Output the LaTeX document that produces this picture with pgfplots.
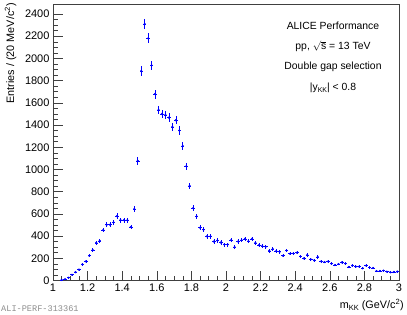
\documentclass[border=0pt]{standalone}
\usepackage{fontspec}
\setmainfont{Liberation Sans}
\setmonofont{Liberation Mono}
\usepackage{pgfplots}
\usepackage{pgfplotstable}
\pgfplotsset{compat=1.18}

\pgfplotstableread{
x y ex ey
1.05 5 0.01 2.2
1.07 12 0.01 3.5
1.09 25 0.01 5
1.11 52 0.01 7.2
1.13 75 0.01 8.7
1.15 98 0.01 9.9
1.17 145 0.01 12
1.19 172 0.01 13.1
1.21 223 0.01 14.9
1.23 274 0.01 16.6
1.25 339 0.01 18.4
1.27 357 0.01 18.9
1.29 454 0.01 21.3
1.31 502 0.01 22.4
1.33 502 0.01 22.4
1.35 523 0.01 22.9
1.37 580 0.01 24.1
1.39 544 0.01 23.3
1.41 544 0.01 23.3
1.43 544 0.01 23.3
1.45 482 0.01 22
1.47 643 0.01 25.4
1.49 1077 0.01 32.8
1.51 1887 0.01 43.4
1.53 2309 0.01 48.1
1.55 2181 0.01 46.7
1.57 1937 0.01 44
1.59 1679 0.01 41
1.61 1536 0.01 39.2
1.63 1500 0.01 38.7
1.65 1491 0.01 38.6
1.67 1467 0.01 38.3
1.69 1384 0.01 37.2
1.71 1443 0.01 38
1.73 1351 0.01 36.8
1.75 1211 0.01 34.8
1.77 1029 0.01 32.1
1.79 851 0.01 29.2
1.81 652 0.01 25.5
1.83 577 0.01 24
1.85 476 0.01 21.8
1.87 458 0.01 21.4
1.89 398 0.01 19.9
1.91 398 0.01 19.9
1.93 351 0.01 18.7
1.95 360 0.01 19
1.97 342 0.01 18.5
1.99 324 0.01 18
2.01 324 0.01 18
2.03 363 0.01 19.1
2.05 300 0.01 17.3
2.07 351 0.01 18.7
2.09 363 0.01 19.1
2.11 375 0.01 19.4
2.13 354 0.01 18.8
2.15 375 0.01 19.4
2.17 339 0.01 18.4
2.19 318 0.01 17.8
2.21 310 0.01 17.6
2.23 304 0.01 17.4
2.25 267 0.01 16.3
2.27 283 0.01 16.8
2.29 265 0.01 16.3
2.31 259 0.01 16.1
2.33 223 0.01 14.9
2.35 270 0.01 16.4
2.37 241 0.01 15.5
2.39 244 0.01 15.6
2.41 250 0.01 15.8
2.43 217 0.01 14.7
2.45 199 0.01 14.1
2.47 229 0.01 15.1
2.49 190 0.01 13.8
2.51 181 0.01 13.5
2.53 211 0.01 14.5
2.55 172 0.01 13.1
2.57 166 0.01 12.9
2.59 172 0.01 13.1
2.61 152 0.01 12.3
2.63 139 0.01 11.8
2.65 148 0.01 12.2
2.67 163 0.01 12.8
2.69 152 0.01 12.3
2.71 121 0.01 11
2.73 134 0.01 11.6
2.75 125 0.01 11.2
2.77 125 0.01 11.2
2.79 110 0.01 10.5
2.81 134 0.01 11.6
2.83 116 0.01 10.8
2.85 113 0.01 10.6
2.87 86 0.01 9.3
2.89 86 0.01 9.3
2.91 89 0.01 9.4
2.93 80 0.01 8.9
2.95 74 0.01 8.6
2.97 77 0.01 8.8
2.99 80 0.01 8.9
}\data

\begin{document}
\begin{tikzpicture}
\path[use as bounding box] (0,0) rectangle (407bp,315bp);
\begin{axis}[
  at={(53bp,34.5bp)}, anchor=south west,
  scale only axis, width=346bp, height=276.5bp,
  xmin=1, xmax=3, ymin=0, ymax=2490,
  xtick={1,1.2,1.4,1.6,1.8,2,2.2,2.4,2.6,2.8,3},
  ytick={0,200,400,600,800,1000,1200,1400,1600,1800,2000,2200,2400},
  minor x tick num=3, minor y tick num=3,
  xtick pos=left, ytick pos=left,
  tick align=inside,
  major tick length=9.5bp, minor tick length=4.8bp,
  axis line style={black!75, line width=0.5bp},
  tick style={black!75, line width=0.5bp},
  ticklabel style={font=\fontsize{11bp}{13bp}\selectfont},
  /pgf/number format/assume math mode=true,
  /pgf/number format/1000 sep={},
  scaled ticks=false,
  xlabel={m\raisebox{-0.35ex}{\fontsize{7.5bp}{8bp}\selectfont KK} (GeV/c\textsuperscript{2})},
  ylabel={Entries / (20 MeV/c\textsuperscript{2})},
  every axis x label/.style={at={(rel axis cs:1,0)}, xshift=5bp, yshift=-24.5bp, anchor=east, inner sep=0pt, font=\fontsize{10.8bp}{13bp}\selectfont},
  every axis y label/.style={at={(rel axis cs:0,1)}, xshift=-42.5bp, yshift=1bp, rotate=90, anchor=east, inner sep=0pt, font=\fontsize{10.8bp}{13bp}\selectfont},
]
\addplot[only marks, blue, mark=*, mark size=0.9bp,
  error bars/.cd, x dir=both, x explicit, y dir=both, y explicit,
  error mark=none, error bar style={blue, line width=0.6bp}]
  table[x=x, y=y, x error=ex, y error=ey] {\data};
\end{axis}
\begin{scope}[every node/.style={font=\fontsize{10.4bp}{12bp}\selectfont}]
\node at (333bp,289.5bp) {ALICE Performance};
\node at (333bp,268.5bp) {pp, \ensuremath{\sqrt{\mbox{s}}} = 13 TeV};
\node at (333bp,248bp) {Double gap selection};
\node at (333bp,227bp) {|y\raisebox{-0.35ex}{\fontsize{7bp}{8bp}\selectfont KK}| < 0.8};
\end{scope}
\node[anchor=west, inner sep=0pt, text=black!45, font=\ttfamily\fontsize{8.6bp}{10bp}\selectfont] at (1bp,6bp) {ALI-PERF-313361};
\end{tikzpicture}
\end{document}
